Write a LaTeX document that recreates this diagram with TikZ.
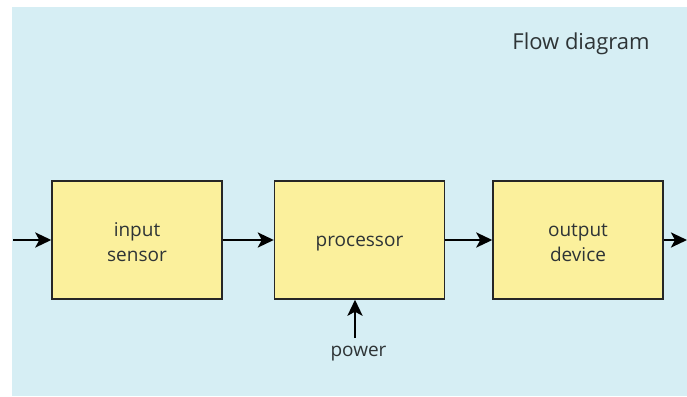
\documentclass[tikz,border=0pt]{standalone}
\usepackage{fontspec}
\setmainfont{Open Sans}
\usetikzlibrary{arrows.meta}
\definecolor{bgblue}{HTML}{D6EEF4}
\definecolor{boxyellow}{HTML}{FBF09C}
\definecolor{txt}{HTML}{2E3436}
\newcommand\twoline[1]{\raisebox{-9.2pt}[0pt][0pt]{#1}}
\newcommand\oneline[1]{\raisebox{-6.7pt}[0pt][0pt]{#1}}
\begin{document}
\begin{tikzpicture}[x=1pt,y=-1pt,
  blockbox/.style={draw=black!85, line width=1.4pt, fill=boxyellow, minimum width=170pt, minimum height=118pt, align=center, text=txt, font=\fontsize{19}{25}\selectfont, inner sep=0pt},
  flow/.style={line width=2.8pt, -{Stealth[length=16pt,width=15pt,inset=4pt]}}]
\useasboundingbox (0,0) rectangle (687,396);
\fill[white] (0,0) rectangle (687,396);
\fill[bgblue] (12,7) rectangle (687,396);
\node[blockbox] (inp) at (137,240) {\twoline{input}\\\twoline{sensor}};
\node[blockbox] (proc) at (359.5,240) {\oneline{processor}};
\node[blockbox] (outp) at (578,240) {\twoline{output}\\\twoline{device}};
\coordinate (src) at (13,240);
\coordinate (snk) at (687,240);
\coordinate (pw) at (355,338);
\node[text=txt, font=\fontsize{19}{22}\selectfont, anchor=base, inner sep=0pt] (pwr) at (358.5,356.7) {power};
\node[text=txt, font=\fontsize{22}{26}\selectfont, anchor=base, inner sep=0pt] (title) at (581,49) {Flow diagram};
\draw[flow] (src) -- (inp.west);
\draw[flow] (inp.east) -- (proc.west);
\draw[flow] (proc.east) -- (outp.west);
\draw[flow] (outp.east) -- (snk);
\draw[flow] (pw) -- (pw |- proc.south);
\end{tikzpicture}
\end{document}
